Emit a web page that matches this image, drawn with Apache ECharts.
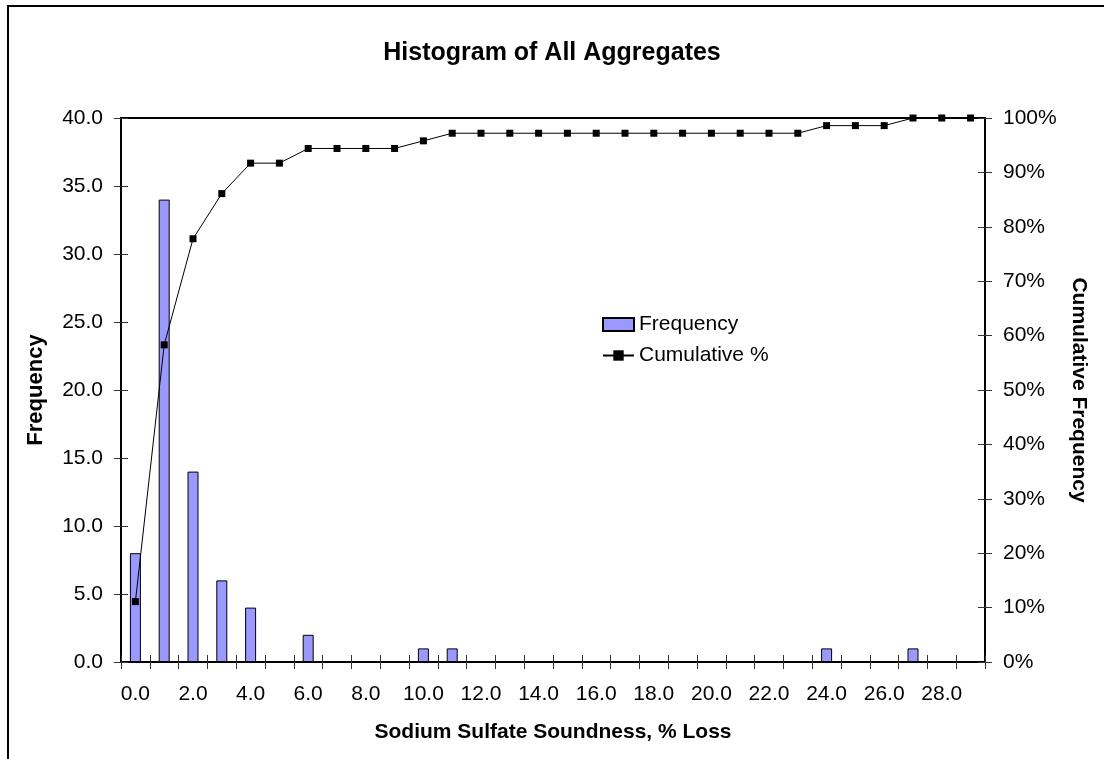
<!DOCTYPE html>
<html>
<head>
<meta charset="utf-8">
<script src="https://cdn.jsdelivr.net/npm/echarts@6/dist/echarts.min.js"></script>
<style>
html,body{margin:0;padding:0;background:#fff;}
#chart{width:1104px;height:759px;}
</style>
</head>
<body>
<div id="chart"></div>
<script>
const categories = ['0','1','2','3','4','5','6','7','8','9','10','11','12','13','14','15','16','17','18','19','20','21','22','23','24','25','26','27','28','29'];
const frequency = [8,34,14,6,4,0,2,0,0,0,1,1,0,0,0,0,0,0,0,0,0,0,0,0,1,0,0,1,0,0];
const cumulativePct = [11.1,58.3,77.8,86.1,91.7,91.7,94.4,94.4,94.4,94.4,95.8,97.2,97.2,97.2,97.2,97.2,97.2,97.2,97.2,97.2,97.2,97.2,97.2,97.2,98.6,98.6,98.6,100,100,100];

const FONT = "'Liberation Sans', Arial, sans-serif";
const chart = echarts.init(document.getElementById('chart'), null, {renderer:'canvas'});

const tickStyle = {color:'#333', width:1};
const yLeft = {type:'value', min:0, max:40, interval:5};
const yRight = {type:'value', min:0, max:100, interval:10};

const option = {
  backgroundColor:'#fff',
  animation:false,
  textStyle:{fontFamily:FONT, color:'#000'},
  title:{
    text:'Histogram of All Aggregates',
    left:'center', top:36,
    textStyle:{fontFamily:FONT, fontSize:25, fontWeight:'bold', color:'#000'}
  },
  graphic:[{
    type:'rect', shape:{x:8, y:6, width:1200, height:900},
    style:{fill:null, stroke:'#000', lineWidth:2}, silent:true
  }],
  legend:{
    orient:'vertical', left:597, top:309,
    itemWidth:31, itemHeight:13, itemGap:10,
    textStyle:{fontFamily:FONT, fontSize:21, color:'#000'},
    data:[{name:'Frequency', icon:'rect'}, {name:'Cumulative %'}]
  },
  grid:{left:121, right:119, top:118, bottom:97, show:true, borderColor:'#000', borderWidth:2},
  xAxis:[{
    type:'category', data:categories, boundaryGap:true,
    name:'Sodium Sulfate Soundness, % Loss', nameLocation:'middle', nameGap:60,
    nameTextStyle:{fontFamily:FONT, fontSize:21, fontWeight:'bold', color:'#000'},
    axisLine:{lineStyle:{color:'#000', width:2}},
    axisTick:{show:true, interval:0, length:7, lineStyle:tickStyle},
    axisLabel:{interval:1, margin:22, fontSize:21, color:'#000', fontFamily:FONT,
      formatter:v=>Number(v).toFixed(1)}
  },{
    type:'category', data:categories, boundaryGap:true, position:'bottom',
    axisLine:{show:false},
    axisTick:{show:true, inside:true, interval:0, length:7, lineStyle:tickStyle},
    axisLabel:{show:false}
  }],
  yAxis:[Object.assign({}, yLeft, {
    position:'left',
    name:'Frequency', nameLocation:'middle', nameGap:74, nameRotate:90,
    nameTextStyle:{fontFamily:FONT, fontSize:22, fontWeight:'bold', color:'#000'},
    axisLine:{show:true, lineStyle:{color:'#000', width:2}},
    axisTick:{show:true, length:7, lineStyle:tickStyle},
    splitLine:{show:false},
    axisLabel:{margin:18, fontSize:21, color:'#000', fontFamily:FONT, formatter:v=>v.toFixed(1)}
  }), Object.assign({}, yRight, {
    position:'right',
    name:'Cumulative Frequency', nameLocation:'middle', nameGap:83, nameRotate:-90,
    nameTextStyle:{fontFamily:FONT, fontSize:21, fontWeight:'bold', color:'#000'},
    axisLine:{show:true, lineStyle:{color:'#000', width:2}},
    axisTick:{show:true, length:7, lineStyle:tickStyle},
    splitLine:{show:false},
    axisLabel:{margin:18, fontSize:21, color:'#000', fontFamily:FONT, formatter:'{value}%'}
  }), Object.assign({}, yLeft, {
    position:'left', axisLine:{show:false},
    axisTick:{show:true, inside:true, length:7, lineStyle:tickStyle},
    splitLine:{show:false}, axisLabel:{show:false}
  }), Object.assign({}, yRight, {
    position:'right', axisLine:{show:false},
    axisTick:{show:true, inside:true, length:7, lineStyle:tickStyle},
    splitLine:{show:false}, axisLabel:{show:false}
  })],
  series:[{
    name:'Frequency', type:'bar', data:frequency, xAxisIndex:0, yAxisIndex:0,
    barWidth:11,
    itemStyle:{color:'#9999FF', borderColor:'#000', borderWidth:1}
  },{
    name:'Cumulative %', type:'line', data:cumulativePct, xAxisIndex:0, yAxisIndex:1,
    symbol:'rect', symbolSize:7, showSymbol:true,
    lineStyle:{color:'#000', width:1},
    itemStyle:{color:'#000'}
  }]
};
chart.setOption(option);
</script>
</body>
</html>
